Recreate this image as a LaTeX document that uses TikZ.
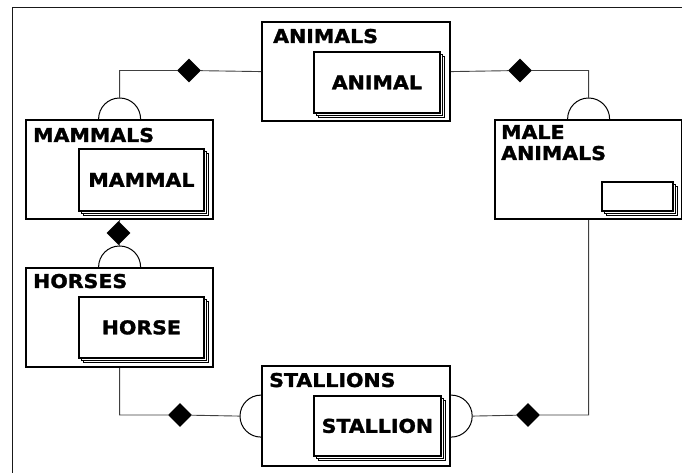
\documentclass[tikz,border=0pt]{standalone}
\usepackage{fontspec}
\setmainfont{DejaVu Sans}
\newfontfamily\heavy{DejaVu Sans}[FakeStretch=1.08, BoldFeatures={FakeBold=1.6}]
\usetikzlibrary{shapes.geometric,shadows}

\tikzset{
  entity/.style={draw, line width=2.2pt, fill=white, anchor=north west, inner sep=0pt},
  card/.style={draw, line width=1.8pt, fill=white, anchor=north west, inner sep=0pt,
    font=\heavy\bfseries\fontsize{19}{21}\selectfont,
    double copy shadow={shadow xshift=2.2pt, shadow yshift=-2.2pt, line width=1pt}},
  title/.style={anchor=base west, inner sep=0pt, font=\heavy\bfseries\fontsize{19}{21}\selectfont},
  link/.style={draw=black!75, line width=0.9pt},
  halfcap/.style={draw=black, line width=1pt},
  joint/.style={diamond, aspect=1, fill=black, inner sep=0pt, minimum width=24pt, minimum height=24pt},
  frame/.style={draw=black!90, line width=1.5pt},
}

\begin{document}
\begin{tikzpicture}[x=1pt, y=1pt]
  \useasboundingbox[fill=white] (0,0) rectangle (682,473);

  % page frame: top and left rules
  \coordinate (frameTL) at (12.5,465.5);
  \coordinate (frameTR) at (682,465.5);
  \coordinate (frameBL) at (12.5,0);
  \draw[frame] (frameTR) -- (frameTL) -- (frameBL);

  % entity sets
  \node[entity, minimum width=188pt, minimum height=99pt]  (animals)   at (261,452) {};
  \node[entity, minimum width=187pt, minimum height=99pt]  (mammals)   at (25,354)  {};
  \node[entity, minimum width=187pt, minimum height=99pt]  (horses)    at (25,206)  {};
  \node[entity, minimum width=187pt, minimum height=99pt]  (male)      at (494,354) {};
  \node[entity, minimum width=188pt, minimum height=100pt] (stallions) at (261,108) {};

  % set titles
  \node[title] (tAnimals)   at (273,430) {ANIMALS};
  \node[title] (tMammals)   at (33,331)  {MAMMALS};
  \node[title] (tHorses)    at (33,185)  {HORSES};
  \node[title] (tMale)      at (501,334) {MALE};
  \node[title] (tMale2)     at (501,313) {ANIMALS};
  \node[title] (tStallions) at (269,86)  {STALLIONS};

  % member cards
  \node[card, minimum width=126pt, minimum height=61pt] (animal)   at (313,422) {ANIMAL};
  \node[card, minimum width=125pt, minimum height=62pt] (mammal)   at (78,325)  {MAMMAL};
  \node[card, minimum width=125pt, minimum height=61pt] (horse)    at (78,177)  {HORSE};
  \node[card, minimum width=71pt,  minimum height=29pt] (malecard) at (601,292) {};
  \node[card, minimum width=127pt, minimum height=60pt] (stallion) at (313,78)  {STALLION};

  % half-circle caps
  \draw[halfcap] ([xshift=-21pt]mammals.north) arc (180:0:21pt);
  \coordinate (mamcap) at ([yshift=21pt]mammals.north);
  \draw[halfcap] ([xshift=-21pt]horses.north) arc (180:0:21pt);
  \coordinate (horcap) at ([yshift=21pt]horses.north);
  \draw[halfcap] ([xshift=-21pt]male.north) arc (180:0:21pt);
  \coordinate (malecap) at ([yshift=21pt]male.north);
  \draw[halfcap] ([yshift=21pt]stallions.west) arc (90:270:21pt);
  \coordinate (stalL) at ([xshift=-21pt]stallions.west);
  \draw[halfcap] ([yshift=21pt]stallions.east) arc (90:-90:21pt);
  \coordinate (stalR) at ([xshift=21pt]stallions.east);

  % joints
  \node[joint] (d1) at (189,402.5) {};
  \node[joint] (d2) at (520,402.5) {};
  \node[joint] (d3) at (118.5,240) {};
  \node[joint] (d4) at (180,58) {};
  \node[joint] (d5) at (528,58) {};

  % connectors
  \draw[link] (mamcap) |- (d1) -- (animals.west);
  \draw[link] (animals.east) -- (d2) -| (malecap);
  \draw[link] (mammals.south) -- (d3) -- (horcap);
  \draw[link] (horses.south) |- (d4) -- (stalL);
  \draw[link] (stalR) -- (d5) -| (male.south);
\end{tikzpicture}
\end{document}
